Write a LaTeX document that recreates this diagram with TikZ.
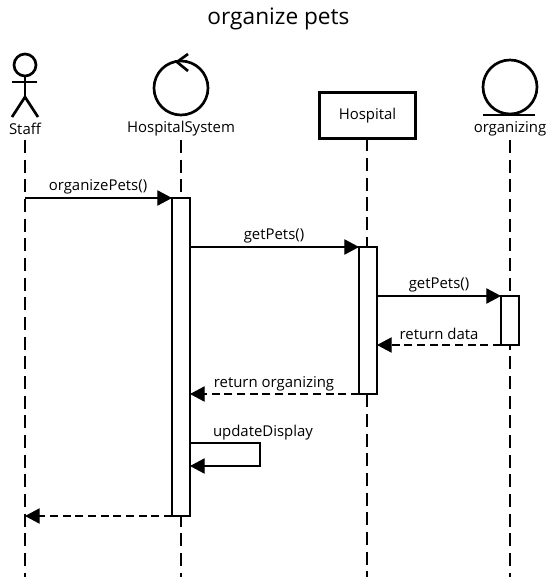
\documentclass[tikz,border=0pt]{standalone}
\usepackage{fontspec}
\setmainfont{Open Sans}
\usetikzlibrary{arrows.meta}
\tikzset{
  lifeline/.style={line width=0.8pt,dash pattern={on 9.75pt off 5pt}},
  msgline/.style={line width=0.8pt,-{Triangle[length=11pt,width=11.5pt]}},
  retline/.style={msgline,dash pattern={on 6pt off 3.5pt}},
  actbar/.style={draw,fill=white,line width=0.8pt,minimum width=13.5pt,inner sep=0pt,outer sep=0pt,anchor=north},
  figline/.style={line width=2pt},
  lbl/.style={font=\fontsize{11.2pt}{13pt}\selectfont,inner sep=0.75pt}
}
\begin{document}
\begin{tikzpicture}[x=0.75pt,y=0.75pt,yscale=-1,xscale=1]
\useasboundingbox (0,0) rectangle (556,577);

% Text Node
\node (title) at (278.5,19) [font=\fontsize{17pt}{20pt}\selectfont,inner sep=0.75pt] {organize pets};

%Shape: Actor
\draw [figline] (25,65) circle (11);
\draw [figline] (25,76) -- (25,97);
\draw [figline] (12,82) -- (37,82);
\draw [figline] (12,117) -- (25,97) -- (38,117);
%Shape: Control
\draw [figline] (181,88) circle (27);
\draw [figline] (188,54) -- (177,62) -- (188,71);
%Shape: Box
\node (hospital) at (367.5,115.5) [draw,figline,minimum width=72pt,minimum height=34.5pt,inner sep=0pt,outer sep=0pt,lbl] {Hospital};
%Shape: Entity
\draw [figline] (510,87) circle (27);
\draw [figline] (483,115) -- (535,115);

% Text Node
\node (staff) at (25,129) [lbl] {Staff};
\node (system) at (181,129) [lbl] {HospitalSystem};
\node (organizing) at (510,129) [lbl] {organizing};

%Lifelines
\coordinate (staffEnd) at (25,577);
\coordinate (systemEnd) at (181,577);
\coordinate (hospitalEnd) at (367,577);
\coordinate (organizingEnd) at (510,577);
\draw [lifeline] (25,140) -- (staffEnd);
\draw [lifeline] (181,140) -- (systemEnd);
\draw [lifeline] (hospital.south -| hospitalEnd) -- (hospitalEnd);
\draw [lifeline] (510,140) -- (organizingEnd);

%Activations
\node (actSystem) at (181,198) [actbar,minimum height=238.5pt] {};
\node (actHospital) at (368,247) [actbar,minimum height=110.25pt] {};
\node (actOrganizing) at (510,296) [actbar,minimum height=36.75pt] {};

%Messages
\coordinate (staffCall) at (25,198);
\coordinate (staffBack) at (25,516);
\coordinate (selfOut) at (260,443);
\coordinate (selfIn) at (260,466);
\draw [msgline] (staffCall) -- (actSystem.north west);
\draw [msgline] (actSystem.east |- actHospital.north) -- (actHospital.north west);
\draw [msgline] (actHospital.east |- actOrganizing.north) -- (actOrganizing.north west);
\draw [retline] (actOrganizing.south west) -- (actHospital.east |- actOrganizing.south);
\draw [retline] (actHospital.south west) -- (actSystem.east |- actHospital.south);
\draw [msgline] (actSystem.east |- selfOut) -- (selfOut) -- (selfIn) -- (actSystem.east |- selfIn);
\draw [retline] (actSystem.south west) -- (staffBack);

% Text Node
\node (m1) at (98,187) [lbl] {organizePets()};
\node (m2) at (274,236) [lbl] {getPets()};
\node (m3) at (439,285) [lbl] {getPets()};
\node (m4) at (439,334) [lbl] {return data};
\node (m5) at (274,384) [lbl] {return organizing};
\node (m6) at (263,433) [lbl] {updateDisplay};
\end{tikzpicture}
\end{document}
